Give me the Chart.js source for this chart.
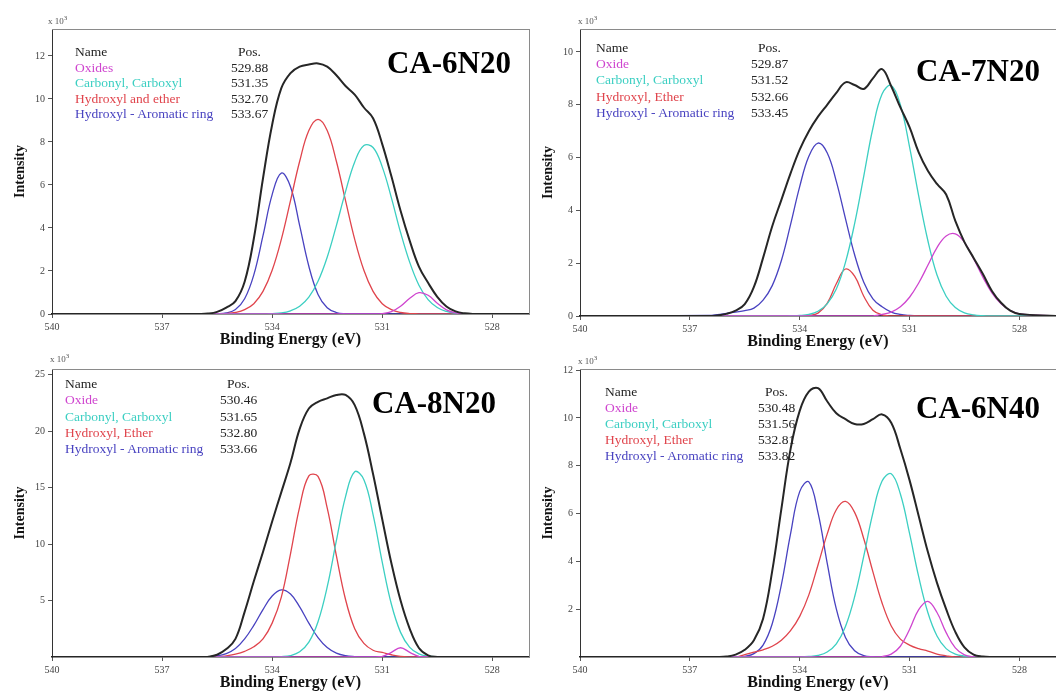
<!DOCTYPE html>
<html>
<head>
<meta charset="utf-8">
<script src="https://cdn.jsdelivr.net/npm/chart.js@4.4.1/dist/chart.umd.min.js"></script>
<style>
  body { margin: 0; background: #fff; }
  #wrap { position: relative; width: 1056px; height: 694px; overflow: hidden; background: #fff;
          font-family: 'Liberation Serif', 'Times New Roman', serif; }
  canvas { position: absolute; }
  .leg { position: absolute; font-size: 13.5px; color: #222; white-space: nowrap; }
  .ttl { position: absolute; font-size: 31px; line-height: 31px; font-weight: bold; color: #000; }
  .mult { position: absolute; font-size: 9px; color: #555; }
  .mult sup { font-size: 7px; }
</style>
</head>
<body>
<div id="wrap"></div>
<script>
const FONT = "'Liberation Serif', 'Times New Roman', serif";

// binding energy grid (eV), shared by all four panels
const energy = [540, 536.5, 536.25, 536, 535.75, 535.5, 535.25, 535, 534.75, 534.5, 534.25, 534,
  533.75, 533.5, 533.25, 533, 532.75, 532.5, 532.25, 532, 531.75, 531.5, 531.25, 531,
  530.75, 530.5, 530.25, 530, 529.75, 529.5, 529.25, 529, 528.75, 528.5, 528.25, 528, 527];
const xTicks = [528, 531, 534, 537, 540];

// CA-6N20 (x10^3 counts)
const p1Oxide    = [0, 0,0,0,0,0,0,0,0,0,0,0,0,0,0,0,0,0,0,0,0,0,0, 0.02,0.11,0.36,0.73,0.99,0.87,0.5,0.19,0.05,0.01, 0,0,0,0];
const p1Carbonyl = [0, 0,0,0,0,0,0,0,0,0,0, 0.02,0.05,0.15,0.36,0.78,1.52,2.64,4.11,5.69,7.07,7.83,7.74,6.84,5.4,3.79,2.4,1.34,0.67,0.3,0.12,0.04,0.01, 0,0,0,0];
const p1Hydroxyl = [0, 0,0,0,0, 0.01,0.02,0.07,0.2,0.48,1.05,2.03,3.47,5.27,7.1,8.53,9.05,8.53,7.1,5.27,3.47,2.03,1.05,0.48,0.2,0.07,0.02,0.01, 0,0,0,0,0,0,0,0,0];
const p1Aromatic = [0, 0,0,0,0, 0.01,0.05,0.21,0.71,1.82,3.64,5.55,6.55,5.92,4.11,2.22,0.91,0.29,0.07,0.01, 0,0,0,0,0,0,0,0,0,0,0,0,0,0,0,0,0];
const p1Envelope = [0, 0,0,0, 0.02,0.1,0.3,0.6,1.5,3.5,6.3,8.8,10.5,11.2,11.5,11.6,11.65,11.5,11.1,10.6,10.2,9.6,9.1,7.9,6.4,4.8,3.4,2.2,1.45,0.8,0.35,0.12,0.03, 0,0,0,0];
const p1YTicks = [0, 2, 4, 6, 8, 10, 12];
const p1Names = ['Oxides', 'Carbonyl, Carboxyl', 'Hydroxyl and ether', 'Hydroxyl - Aromatic ring'];
const p1Pos = ['529.88', '531.35', '532.70', '533.67'];

// CA-7N20
const p2Oxide    = [0, 0,0,0,0,0,0,0,0,0,0,0,0,0,0,0,0,0,0,0, 0.06,0.15,0.35,0.71,1.25,1.92,2.59,3.03,3.11,2.79,2.17,1.48,0.88,0.46,0.21,0.08, 0];
const p2Carbonyl = [0, 0,0,0,0,0,0,0,0,0, 0.01,0.02,0.06,0.18,0.46,1.02,2.03,3.5,5.3,7.12,8.41,8.73,8.0,6.41,4.55,2.86,1.55,0.75,0.32,0.12,0.04,0.01, 0,0,0,0,0];
const p2Hydroxyl = [0, 0,0,0,0,0,0,0,0,0,0,0, 0.02,0.11,0.48,1.22,1.78,1.51,0.75,0.22,0.04, 0,0,0,0,0,0,0,0,0,0,0,0,0,0,0,0];
const p2Aromatic = [0, 0.02,0.05,0.1,0.15,0.2,0.3,0.6,1.15,2.1,3.46,4.9,6.05,6.55,6.18,5.1,3.69,2.32,1.28,0.65,0.35,0.15,0.06,0.02, 0,0,0,0,0,0,0,0,0,0,0,0,0];
const p2Envelope = [0, 0,0.02,0.08,0.2,0.45,1.1,2.2,3.4,4.4,5.4,6.3,7.0,7.55,8.0,8.45,8.85,8.75,8.6,9.0,9.35,8.7,7.9,7.15,6.2,5.5,5.0,4.6,3.6,2.8,2.2,1.6,0.95,0.5,0.2,0.08, 0];
const p2YTicks = [0, 2, 4, 6, 8, 10];
const p2Names = ['Oxide', 'Carbonyl, Carboxyl', 'Hydroxyl, Ether', 'Hydroxyl - Aromatic ring'];
const p2Pos = ['529.87', '531.52', '532.66', '533.45'];

// CA-8N20
const p3Oxide    = [0, 0,0,0,0,0,0,0,0,0,0,0,0,0,0,0,0,0,0,0,0,0,0, 0.05,0.41,0.82,0.41,0.05, 0,0,0,0,0,0,0,0,0];
const p3Carbonyl = [0, 0,0,0,0,0,0,0,0,0,0,0, 0.03,0.13,0.46,1.31,3.12,6.2,10.3,14.2,16.4,15.7,12.6,8.4,4.67,2.18,0.85,0.27,0.07,0.02, 0,0,0,0,0,0,0];
const p3Hydroxyl = [0, 0,0,0,0,0, 0.1,0.25,0.5,0.9,1.6,3.0,5.3,9.14,13.3,16.04,15.99,13.2,8.97,5.09,2.5,1.2,0.6,0.4,0.2,0.05, 0,0,0,0,0,0,0,0,0,0,0];
const p3Aromatic = [0, 0,0, 0.01,0.03,0.09,0.3,0.75,1.6,2.8,4.2,5.4,5.94,5.57,4.44,3.0,1.72,0.84,0.35,0.12,0.04,0.01, 0,0,0,0,0,0,0,0,0,0,0,0,0,0,0];
const p3Envelope = [0, 0,0,0, 0.02,0.2,0.7,1.6,4.0,6.7,9.3,12.0,14.6,17.2,20.2,22.0,22.6,22.9,23.2,23.2,22.3,19.8,16.2,12.2,8.3,5.0,2.5,0.8,0.15, 0,0,0,0,0,0,0,0];
const p3YTicks = [5, 10, 15, 20, 25];
const p3Names = ['Oxide', 'Carbonyl, Carboxyl', 'Hydroxyl, Ether', 'Hydroxyl - Aromatic ring'];
const p3Pos = ['530.46', '531.65', '532.80', '533.66'];

// CA-6N40
const p4Oxide    = [0, 0,0,0,0,0,0,0,0,0,0,0,0,0,0,0,0,0,0,0, 0.02,0.12,0.45,1.15,1.98,2.33,1.86,1.02,0.38,0.09,0.01, 0,0,0,0,0,0];
const p4Carbonyl = [0, 0,0,0,0,0,0,0,0,0,0,0, 0.02,0.07,0.21,0.55,1.28,2.52,4.22,6.03,7.36,7.67,6.82,5.17,3.36,1.86,0.88,0.35,0.12,0.04,0.01, 0,0,0,0,0,0];
const p4Hydroxyl = [0, 0,0,0,0, 0.1,0.2,0.3,0.45,0.7,1.1,1.7,2.6,3.85,5.14,6.16,6.51,6.05,4.95,3.56,2.26,1.3,0.75,0.5,0.35,0.25,0.12,0.05, 0,0,0,0,0,0,0,0,0];
const p4Aromatic = [0, 0,0,0,0, 0.03,0.14,0.5,1.39,3.03,5.15,6.92,7.33,6.04,3.94,2.01,0.82,0.26,0.06,0.01, 0,0,0,0,0,0,0,0,0,0,0,0,0,0,0,0,0];
const p4Envelope = [0, 0,0, 0.02,0.1,0.3,0.7,1.6,3.6,6.2,8.7,10.3,11.1,11.25,10.7,10.2,9.95,9.75,9.75,9.95,10.15,9.8,8.7,7.4,5.9,4.4,3.1,2.0,1.05,0.4,0.1,0.02, 0,0,0,0,0];
const p4YTicks = [2, 4, 6, 8, 10, 12];
const p4Names = ['Oxide', 'Carbonyl, Carboxyl', 'Hydroxyl, Ether', 'Hydroxyl - Aromatic ring'];
const p4Pos = ['530.48', '531.56', '532.81', '533.82'];

const compColors = ['#cf45cf', '#3ccfc2', '#e0444c', '#4842c0'];
const envColor = '#262626';

const wrap = document.getElementById('wrap');

function addText(cls, left, top, html, extra) {
    const d = document.createElement('div');
    d.className = cls;
    d.style.left = left + 'px';
    d.style.top = top + 'px';
    if (extra) Object.assign(d.style, extra);
    d.innerHTML = html;
    wrap.appendChild(d);
}

function makePanel(p) {
    const cv = document.createElement('canvas');
    cv.width = p.w;
    cv.height = p.h;
    cv.style.left = p.left + 'px';
    cv.style.top = p.top + 'px';
    wrap.appendChild(cv);

    const pts = vals => energy.map((e, i) => ({x: e, y: vals[i]}));
    const line = (vals, color, width) => ({
        data: pts(vals),
        borderColor: color,
        borderWidth: width,
        pointRadius: 0,
        tension: 0.4,
        fill: false
    });

    new Chart(cv.getContext('2d'), {
        type: 'line',
        data: {
            datasets: [
                line(p.series[4], envColor, 2),
                line(p.series[0], compColors[0], 1.3),
                line(p.series[1], compColors[1], 1.3),
                line(p.series[2], compColors[2], 1.3),
                line(p.series[3], compColors[3], 1.3)
            ]
        },
        options: {
            responsive: false,
            animation: false,
            events: [],
            layout: { padding: { top: 29, right: p.padRight, bottom: 0, left: 0 } },
            plugins: { legend: { display: false }, tooltip: { enabled: false } },
            scales: {
                x: {
                    type: 'linear', reverse: true, min: 527, max: 540,
                    afterBuildTicks: s => { s.ticks = xTicks.map(v => ({value: v})); },
                    afterFit: s => { s.height = 36; },
                    grid: { drawOnChartArea: false, drawTicks: true, tickLength: 4, color: '#555' },
                    border: { color: '#222', width: 1.5 },
                    ticks: { font: { family: FONT, size: 10 }, color: '#444', padding: 3, maxRotation: 0, autoSkip: false,
                             callback: v => String(v) },
                    title: { display: true, text: 'Binding Energy (eV)', color: '#111',
                             font: { family: FONT, size: 16, weight: 'bold', lineHeight: 1 },
                             padding: { top: 0, bottom: 2 } }
                },
                y: {
                    min: 0, max: p.yMax,
                    afterBuildTicks: s => { s.ticks = p.yTicks.map(v => ({value: v})); },
                    afterFit: s => { s.width = 52; },
                    grid: { drawOnChartArea: false, drawTicks: true, tickLength: 4, color: '#555' },
                    border: { color: '#333', width: 1 },
                    ticks: { font: { family: FONT, size: 10 }, color: '#444', padding: 3, callback: v => String(v) },
                    title: { display: true, text: 'Intensity', color: '#111',
                             font: { family: FONT, size: 14, weight: 'bold', lineHeight: 1 },
                             padding: { top: 13, bottom: 0 } }
                },
                xTop: {
                    type: 'linear', position: 'top', reverse: true, min: 527, max: 540,
                    grid: { display: false }, ticks: { display: false },
                    border: { color: '#8a8a8a', width: 1 },
                    afterFit: s => { s.height = 0; }
                },
                yRight: {
                    position: 'right', min: 0, max: p.yMax,
                    grid: { display: false }, ticks: { display: false },
                    border: { color: '#8a8a8a', width: 1 },
                    afterFit: s => { s.width = 0; }
                }
            }
        }
    });

    // legend table inside the plot
    const lg = p.legend;
    addText('leg', lg.x, lg.y,
        '<div>Name</div>' + lg.names.map((n, i) => `<div style="color:${compColors[i]}">${n}</div>`).join(''),
        { lineHeight: lg.lh + 'px' });
    addText('leg', lg.posX, lg.y,
        '<div style="padding-left:7px">Pos.</div>' + lg.pos.map(v => `<div>${v}</div>`).join(''),
        { lineHeight: lg.lh + 'px' });

    addText('ttl', p.titleX, p.titleY, p.title);
    addText('mult', p.multX, p.multY, 'x 10<sup>3</sup>');
}

makePanel({
    left: 0, top: 0, w: 530, h: 350, padRight: 1, yMax: 13.25, yTicks: p1YTicks,
    series: [p1Oxide, p1Carbonyl, p1Hydroxyl, p1Aromatic, p1Envelope],
    legend: { x: 75, posX: 231, y: 44, lh: 15.5, names: p1Names, pos: p1Pos },
    title: 'CA-6N20', titleX: 387, titleY: 47, multX: 48, multY: 14
});
makePanel({
    left: 528, top: 0, w: 528, h: 352, padRight: 0, yMax: 10.87, yTicks: p2YTicks,
    series: [p2Oxide, p2Carbonyl, p2Hydroxyl, p2Aromatic, p2Envelope],
    legend: { x: 596, posX: 751, y: 40, lh: 16.2, names: p2Names, pos: p2Pos },
    title: 'CA-7N20', titleX: 916, titleY: 55, multX: 578, multY: 14
});
makePanel({
    left: 0, top: 340, w: 530, h: 353, padRight: 1, yMax: 25.5, yTicks: p3YTicks,
    series: [p3Oxide, p3Carbonyl, p3Hydroxyl, p3Aromatic, p3Envelope],
    legend: { x: 65, posX: 220, y: 376, lh: 16.3, names: p3Names, pos: p3Pos },
    title: 'CA-8N20', titleX: 372, titleY: 387, multX: 50, multY: 352
});
makePanel({
    left: 528, top: 340, w: 528, h: 353, padRight: 0, yMax: 12.05, yTicks: p4YTicks,
    series: [p4Oxide, p4Carbonyl, p4Hydroxyl, p4Aromatic, p4Envelope],
    legend: { x: 605, posX: 758, y: 384, lh: 16, names: p4Names, pos: p4Pos },
    title: 'CA-6N40', titleX: 916, titleY: 392, multX: 578, multY: 354
});
</script>
</body>
</html>
